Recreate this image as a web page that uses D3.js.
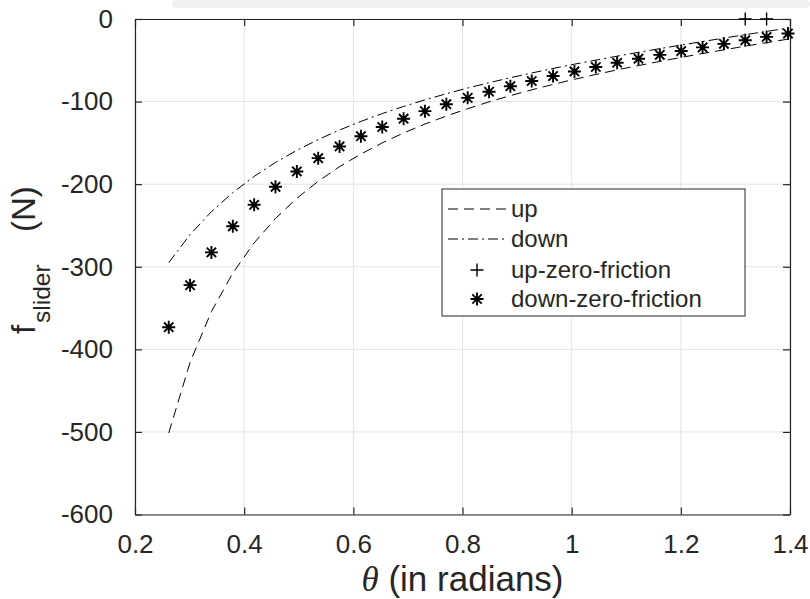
<!DOCTYPE html>
<html>
<head>
<meta charset="utf-8">
<script src="https://cdn.jsdelivr.net/npm/d3@7"></script>
<style>
  html, body { margin: 0; padding: 0; background: #fff; }
  svg { display: block; }
  text { font-family: "Liberation Sans", Arial, Helvetica, sans-serif; fill: #262626; }
</style>
</head>
<body>
<svg id="chart" width="810" height="599"></svg>
<script>
// Slope angle (rad), 30 samples from 15 deg to 80 deg
const theta = [0.2618, 0.3009, 0.3400, 0.3792, 0.4183, 0.4574, 0.4965, 0.5356, 0.5748, 0.6139,
               0.6530, 0.6921, 0.7312, 0.7704, 0.8095, 0.8486, 0.8877, 0.9268, 0.9659, 1.0051,
               1.0442, 1.0833, 1.1224, 1.1615, 1.2007, 1.2398, 1.2789, 1.3180, 1.3571, 1.3963];

// Slider force (N) moving up, with friction
const fUp = [-501.3, -415.8, -354.2, -307.7, -271.1, -241.5, -217.1, -196.5, -178.8, -163.5,
             -150.0, -138.0, -127.2, -117.5, -108.6, -100.3, -92.8, -85.8, -79.2, -73.0,
             -67.2, -61.6, -56.4, -51.3, -46.5, -41.8, -37.3, -32.9, -28.6, -24.4];

// Slider force (N) moving down, with friction
const fDown = [-295.1, -261.0, -233.3, -210.2, -190.6, -173.7, -159.0, -146.0, -134.4, -124.0,
               -114.5, -105.9, -97.9, -90.5, -83.6, -77.2, -71.1, -65.4, -59.9, -54.7,
               -49.8, -45.0, -40.3, -35.9, -31.5, -27.3, -23.1, -19.0, -15.0, -11.0];

// Frictionless case, moving down
const fDownZero = [-373.2, -322.3, -282.6, -251.0, -225.0, -203.2, -184.6, -168.5, -154.3, -141.9,
                   -130.8, -120.7, -111.6, -103.2, -95.5, -88.1, -81.4, -75.1, -69.1, -63.5,
                   -58.1, -53.0, -48.1, -43.4, -38.8, -34.4, -30.1, -25.8, -21.7, -17.6];

// Frictionless case, moving up (only the points inside the axes range)
const thetaUpZero = [1.3180, 1.3571];
const fUpZero = [0, 0];

const xTicks = [0.2, 0.4, 0.6, 0.8, 1.0, 1.2, 1.4];
const xTickLabels = ["0.2", "0.4", "0.6", "0.8", "1", "1.2", "1.4"];
const yTicks = [0, -100, -200, -300, -400, -500, -600];
const yTickLabels = ["0", "-100", "-200", "-300", "-400", "-500", "-600"];

const legendLabels = ["up", "down", "up-zero-friction", "down-zero-friction"];

const svg = d3.select("#chart");
const L = 135, R = 790, T = 19, B = 514.5;
const axisColor = "#262626";
const tickFont = 26;
const labelFont = 33;

const x = d3.scaleLinear().domain([0.2, 1.4]).range([L, R]);
const y = d3.scaleLinear().domain([-600, 0]).range([B, T]);

// faint grey band along the top edge of the image
svg.append("rect").attr("x", 172).attr("y", 0).attr("width", 638).attr("height", 8)
  .attr("rx", 4).attr("fill", "#f0f0f0");

// grid
const grid = svg.append("g");
grid.selectAll(".gx").data(xTicks).join("line")
  .attr("x1", d => x(d)).attr("x2", d => x(d)).attr("y1", T).attr("y2", B)
  .attr("stroke", "#e3e3e3").attr("stroke-width", 1);
grid.selectAll(".gy").data(yTicks).join("line")
  .attr("x1", L).attr("x2", R).attr("y1", d => y(d)).attr("y2", d => y(d))
  .attr("stroke", "#e3e3e3").attr("stroke-width", 1);

// axes (ticks point inward)
const fmtX = d => xTickLabels[xTicks.indexOf(d)];
const fmtY = d => yTickLabels[yTicks.indexOf(d)];

const gx = svg.append("g").attr("transform", `translate(0,${B})`)
  .call(d3.axisBottom(x).tickValues(xTicks).tickFormat(fmtX).tickSizeInner(-7).tickSizeOuter(0).tickPadding(20));
const gy = svg.append("g").attr("transform", `translate(${L},0)`)
  .call(d3.axisLeft(y).tickValues(yTicks).tickFormat(fmtY).tickSizeInner(-7).tickSizeOuter(0).tickPadding(22));
const gxt = svg.append("g").attr("transform", `translate(0,${T})`)
  .call(d3.axisTop(x).tickValues(xTicks).tickFormat("").tickSizeInner(-7).tickSizeOuter(0));
const gyr = svg.append("g").attr("transform", `translate(${R},0)`)
  .call(d3.axisRight(y).tickValues(yTicks).tickFormat("").tickSizeInner(-7).tickSizeOuter(0));

[gx, gy, gxt, gyr].forEach(g => {
  g.select(".domain").attr("stroke", axisColor).attr("stroke-width", 1.2);
  g.selectAll(".tick line").attr("stroke", axisColor).attr("stroke-width", 1.2);
  g.selectAll(".tick text").attr("font-size", tickFont)
    .attr("font-family", '"Liberation Sans", Arial, sans-serif').attr("fill", axisColor);
});

// curves
const line = d3.line().x(d => x(d[0])).y(d => y(d[1]));
const plot = svg.append("g");
plot.append("path").datum(theta.map((t, i) => [t, fUp[i]]))
  .attr("d", line).attr("fill", "none").attr("stroke", "#000").attr("stroke-width", 1)
  .attr("stroke-dasharray", "10,6");
plot.append("path").datum(theta.map((t, i) => [t, fDown[i]]))
  .attr("d", line).attr("fill", "none").attr("stroke", "#000").attr("stroke-width", 1)
  .attr("stroke-dasharray", "10,4,2,4");

// marker shapes
function plusPath(r) {
  return `M${-r},0H${r}M0,${-r}V${r}`;
}
function starPath(r) {
  const d = r * 0.72;
  return `M${-r},0H${r}M0,${-r}V${r}M${-d},${-d}L${d},${d}M${-d},${d}L${d},${-d}`;
}

plot.selectAll(".star").data(theta.map((t, i) => [t, fDownZero[i]])).join("path")
  .attr("transform", d => `translate(${x(d[0])},${y(d[1])})`)
  .attr("d", starPath(6.5)).attr("fill", "none").attr("stroke", "#000").attr("stroke-width", 1.9);
plot.selectAll(".plus").data(thetaUpZero.map((t, i) => [t, fUpZero[i]])).join("path")
  .attr("transform", d => `translate(${x(d[0])},${y(d[1])})`)
  .attr("d", plusPath(6.5)).attr("fill", "none").attr("stroke", "#000").attr("stroke-width", 1.4);

// x label
const xl = svg.append("text").attr("x", (L + R) / 2).attr("y", 591)
  .attr("text-anchor", "middle").attr("font-size", 35);
xl.append("tspan").attr("font-style", "italic")
  .attr("font-family", '"Liberation Serif", "Times New Roman", serif').text("θ");
xl.append("tspan").text(" (in radians)");

// y label: f with subscript, rotated
const yl = svg.append("g").attr("transform", "translate(35,334) rotate(-90)");
yl.append("text").attr("x", 0).attr("y", 0).attr("font-size", labelFont).text("f");
yl.append("text").attr("x", 11).attr("y", 15).attr("font-size", 24.5).text("slider");
yl.append("text").attr("x", 102).attr("y", 0).attr("font-size", labelFont).text("(N)");

// legend
const lg = svg.append("g");
lg.append("rect").attr("x", 442).attr("y", 189).attr("width", 303).attr("height", 127)
  .attr("fill", "#fff").attr("stroke", axisColor).attr("stroke-width", 1);
const rowY = [209, 239, 270, 299];
lg.append("line").attr("x1", 448).attr("x2", 507).attr("y1", rowY[0]).attr("y2", rowY[0])
  .attr("stroke", "#000").attr("stroke-dasharray", "10,6");
lg.append("line").attr("x1", 448).attr("x2", 507).attr("y1", rowY[1]).attr("y2", rowY[1])
  .attr("stroke", "#000").attr("stroke-dasharray", "10,4,2,4");
lg.append("path").attr("transform", `translate(477,${rowY[2]})`).attr("d", plusPath(6.5))
  .attr("stroke", "#000").attr("stroke-width", 1.4);
lg.append("path").attr("transform", `translate(477,${rowY[3]})`).attr("d", starPath(6.5))
  .attr("stroke", "#000").attr("stroke-width", 1.9);
lg.selectAll(".lt").data(legendLabels).join("text")
  .attr("x", 511).attr("y", (d, i) => rowY[i]).attr("dy", "0.35em")
  .attr("font-size", 24).attr("fill", "#000").text(d => d);
</script>
</body>
</html>
